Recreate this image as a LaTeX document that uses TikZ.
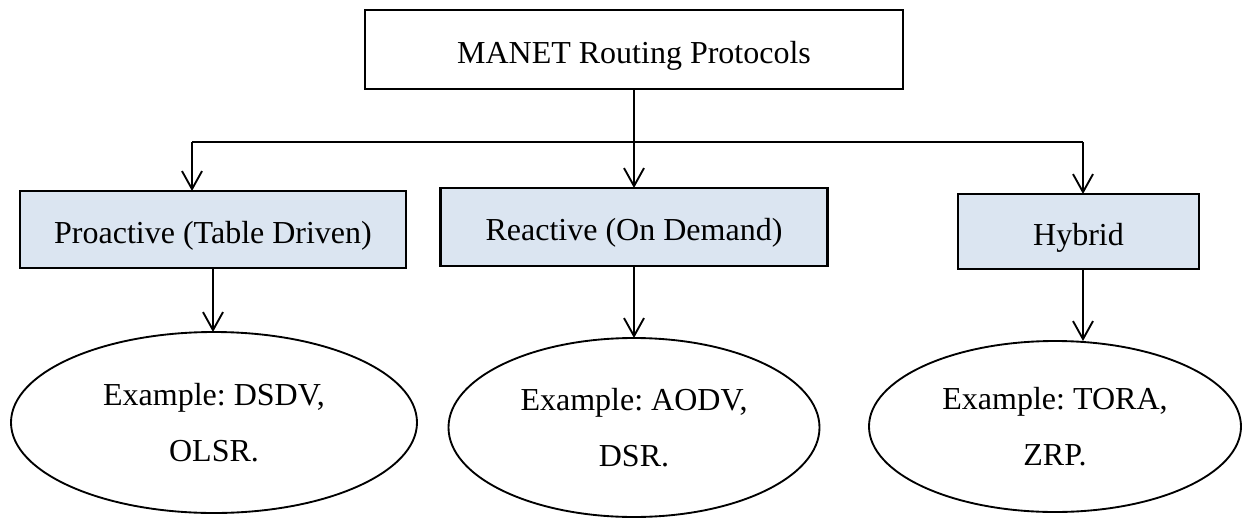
\documentclass[tikz,border=0pt]{standalone}
\usepackage{fontspec}
\setmainfont{Liberation Serif}
\usetikzlibrary{arrows.meta,shapes.geometric}
\definecolor{catfill}{HTML}{DBE5F1}
\frenchspacing
\begin{document}
\begin{tikzpicture}[x=0.75pt,y=-0.75pt,
  every node/.style={font=\fontsize{24pt}{42pt}\selectfont, inner sep=0pt, outer sep=0pt},
  rootbox/.style={draw, line width=1.7pt, fill=white, text height=20.25pt, text depth=0pt},
  catbox/.style={draw, line width=1.7pt, fill=catfill, text height=20.25pt, text depth=0pt},
  example/.style={draw, ellipse, line width=1.4pt, align=center},
  wire/.style={line width=1.4pt},
  arr/.style={line width=1.4pt, -{Straight Barb[length=13.5pt,width=15pt]}}]
\useasboundingbox (0,0) rectangle (1243,518);

% root and the three protocol families
\node[rootbox, minimum width=403.5pt, minimum height=59.25pt] (top) at (634,49.5) {MANET Routing Protocols};
\node[catbox, minimum width=289.5pt, minimum height=57.75pt] (pro) at (213,229.5) {Proactive (Table Driven)};
\node[catbox, minimum width=290.25pt, minimum height=58.5pt] (rea) at (634,227) {Reactive (On Demand)};
\node[catbox, minimum width=180.75pt, minimum height=56.25pt] (hyb) at (1078.5,231.5) {Hybrid};

% examples
\node[example, minimum width=304.5pt, minimum height=135.75pt] (e1) at (214,422.5) {Example: DSDV,\\OLSR.};
\node[example, minimum width=278.25pt, minimum height=134.25pt] (e2) at (634,427.5) {Example: AODV,\\DSR.};
\node[example, minimum width=279pt, minimum height=128.25pt] (e3) at (1055,426.5) {Example: TORA,\\ZRP.};

% distribution bus
\coordinate (j) at (634,142);
\coordinate (bl) at (192,142);
\coordinate (br) at (1083,142);
\draw[wire] (top.south) -- (j);
\draw[wire] (bl) -- (br);
\draw[arr] (bl) -- (bl |- pro.north);
\draw[arr] (j) -- (rea.north);
\draw[arr] (br) -- (br |- hyb.north);

% families to examples
\draw[arr] (pro.south) -- (pro.south |- e1.north);
\draw[arr] (rea.south) -- (e2.north);
\draw[arr] (br |- hyb.south) -- (br |- e3.north);
\end{tikzpicture}
\end{document}
